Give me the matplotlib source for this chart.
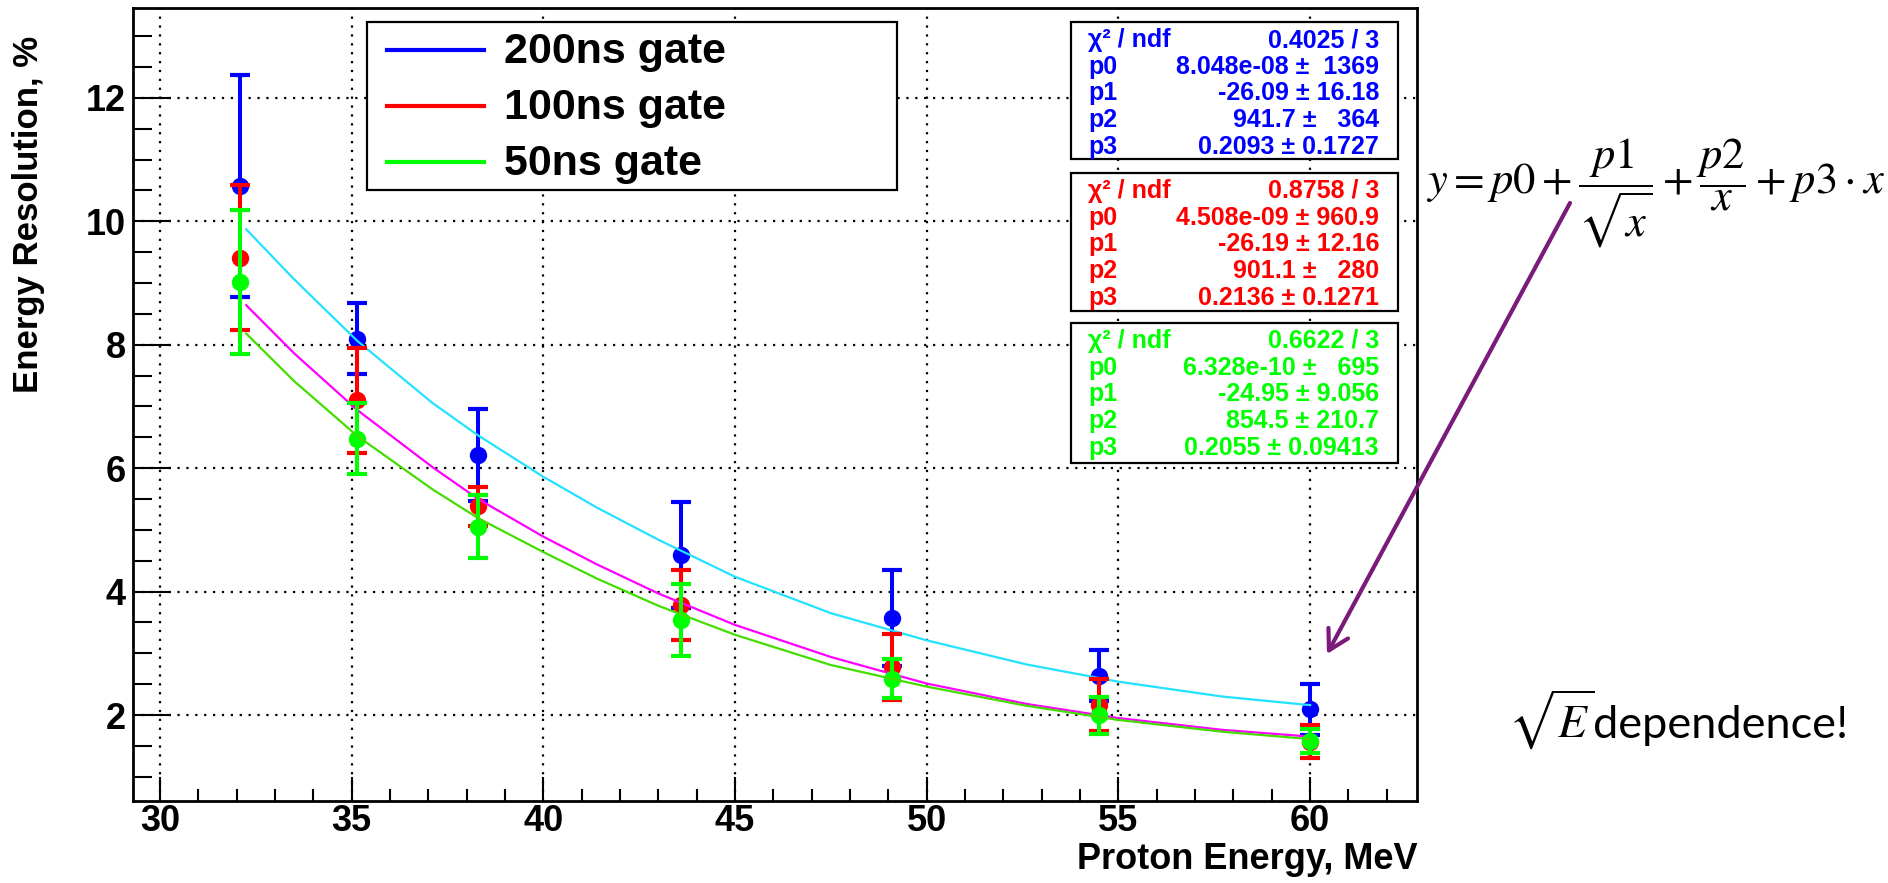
import matplotlib
matplotlib.use("Agg")
import matplotlib.pyplot as plt
from matplotlib.lines import Line2D
from matplotlib.patches import Rectangle, FancyArrowPatch
from matplotlib.ticker import MultipleLocator

W, H = 1888, 883

# measured points (proton energy in MeV, resolution in %)
energy = [32.1, 35.15, 38.3, 43.6, 49.1, 54.5, 60.0]
res_200 = [10.57, 8.10, 6.21, 4.59, 3.57, 2.64, 2.09]
err_200 = [1.80, 0.58, 0.74, 0.86, 0.78, 0.41, 0.42]
res_100 = [9.41, 7.10, 5.38, 3.78, 2.78, 2.16, 1.57]
err_100 = [1.17, 0.85, 0.32, 0.57, 0.54, 0.42, 0.27]
res_50 = [9.02, 6.48, 5.05, 3.54, 2.59, 2.00, 1.58]
err_50 = [1.17, 0.58, 0.51, 0.58, 0.32, 0.30, 0.20]

# fit curves
fit_x = [32.25, 33.5, 35.15, 37.1, 38.3, 40, 41.4, 43.0, 45, 47.5, 50, 52.6, 55, 57.7, 60]
fit_200 = [9.87, 9.06, 8.06, 7.06, 6.53, 5.86, 5.36, 4.84, 4.24, 3.65, 3.21, 2.82, 2.54, 2.30, 2.16]
fit_100 = [8.64, 7.86, 6.94, 6.02, 5.50, 4.89, 4.44, 3.97, 3.46, 2.94, 2.51, 2.18, 1.95, 1.76, 1.65]
fit_50 = [8.18, 7.41, 6.52, 5.66, 5.19, 4.64, 4.21, 3.77, 3.30, 2.81, 2.46, 2.15, 1.92, 1.73, 1.61]

labels = ["200ns gate", "100ns gate", "50ns gate"]
point_colors = ["#0000ff", "#ff0000", "#00ff00"]
fit_colors = ["#22e2ff", "#ff00ff", "#44dd00"]

stat_names = ["\u03c7\u00b2 / ndf", "p0", "p1", "p2", "p3"]
stats_200 = ["0.4025 / 3", "8.048e-08 \u00b1  1369", "-26.09 \u00b1 16.18", "941.7 \u00b1   364", "0.2093 \u00b1 0.1727"]
stats_100 = ["0.8758 / 3", "4.508e-09 \u00b1 960.9", "-26.19 \u00b1 12.16", "901.1 \u00b1   280", "0.2136 \u00b1 0.1271"]
stats_50 = ["0.6622 / 3", "6.328e-10 \u00b1   695", "-24.95 \u00b1 9.056", "854.5 \u00b1 210.7", "0.2055 \u00b1 0.09413"]

plt.rcParams["font.family"] = ["Liberation Sans", "DejaVu Sans"]
plt.rcParams["mathtext.fontset"] = "stix"


def fx(px):
    return px / W


def fy(py):
    return 1 - py / H


fig = plt.figure(figsize=(W / 100, H / 100), dpi=100)
ax = fig.add_axes([fx(132.7), fy(801), (1416.7 - 132.7) / W, (801 - 8.3) / H])

series = [(res_200, err_200, fit_200), (res_100, err_100, fit_100), (res_50, err_50, fit_50)]
for i, (res, err, fit) in enumerate(series):
    ax.errorbar(energy, res, yerr=err, fmt="o", color=point_colors[i], ms=11.5,
                elinewidth=2.9, capsize=7.5, capthick=3, zorder=3 + 2 * i)
    ax.plot(fit_x, fit, color=fit_colors[i], lw=1.6, zorder=4 + 2 * i)

ax.set_xlim(29.29, 62.78)
ax.set_ylim(0.607, 13.45)
ax.xaxis.set_major_locator(MultipleLocator(5))
ax.xaxis.set_minor_locator(MultipleLocator(1))
ax.yaxis.set_major_locator(MultipleLocator(2))
ax.yaxis.set_minor_locator(MultipleLocator(0.5))
ax.grid(True, which="major", color="black", linestyle=(0, (1, 3)), linewidth=1.6, zorder=1)
ax.set_axisbelow(True)
for sp in ax.spines.values():
    sp.set_linewidth(2)
ax.tick_params(axis="x", which="major", direction="in", length=17, width=1.5, pad=2, labelsize=26)
ax.tick_params(axis="x", which="minor", direction="in", length=8.6, width=1.5)
ax.tick_params(axis="y", which="major", direction="in", length=27, width=1.5, pad=5, labelsize=26)
ax.tick_params(axis="y", which="minor", direction="in", length=13.7, width=1.5)
for lab in ax.get_xticklabels() + ax.get_yticklabels():
    lab.set_fontweight("bold")

fig.text(fx(29), fy(36), "Energy Resolution, %", rotation=90, ha="center", va="top",
         fontsize=25, fontweight="bold")
fig.text(fx(1418), fy(869), "Proton Energy, MeV", ha="right", va="baseline",
         fontsize=26, fontweight="bold")

# legend box
fig.add_artist(Rectangle((fx(366.6), fy(190)), (897 - 366.6) / W, (190 - 22.3) / H,
                         transform=fig.transFigure, facecolor="white", edgecolor="black",
                         lw=1.6, zorder=10))
for i, lab in enumerate(labels):
    yl = 50 + 56 * i
    fig.add_artist(Line2D([fx(387), fx(484)], [fy(yl), fy(yl)], transform=fig.transFigure,
                          color=point_colors[i], lw=3, zorder=11))
    fig.text(fx(504), fy(yl + 13), lab, fontsize=31, fontweight="bold", va="baseline",
             zorder=11)

# fit statistics boxes
boxes = [(22, 159, stats_200), (173, 311, stats_100), (323, 463, stats_50)]
for i, (top, bottom, vals) in enumerate(boxes):
    fig.add_artist(Rectangle((fx(1071), fy(bottom)), (1398 - 1071) / W, (bottom - top) / H,
                             transform=fig.transFigure, facecolor="white", edgecolor="black",
                             lw=1.6, zorder=10))
    for j, (name, val) in enumerate(zip(stat_names, vals)):
        yb = top + 25 + 26.7 * j
        fig.text(fx(1088), fy(yb), name, color=point_colors[i], fontsize=18,
                 fontweight="bold", va="baseline", zorder=11)
        fig.text(fx(1379), fy(yb), val, color=point_colors[i], fontsize=18,
                 fontweight="bold", va="baseline", ha="right", zorder=11)

# formula and annotation
fig.text(fx(1426), fy(194), r"$y = p0 + \dfrac{p1}{\sqrt{x}} + \dfrac{p2}{x} + p3\cdot x$",
         fontsize=32, va="baseline", ha="left")
fig.add_artist(FancyArrowPatch((fx(1570), fy(203)), (fx(1327), fy(654)),
                               transform=fig.transFigure,
                               arrowstyle="->,head_length=0.7,head_width=0.4",
                               mutation_scale=20, lw=3, color="#7a1b7a",
                               shrinkA=0, shrinkB=0, zorder=12))
fig.text(fx(1508), fy(738), r"$\sqrt{E}$", fontsize=34, va="baseline", ha="left")
fig.text(fx(1593), fy(738), "dependence!", family=["Lato", "DejaVu Sans"],
         fontsize=32.5, va="baseline", ha="left")

fig.savefig("out.png", dpi=100)
